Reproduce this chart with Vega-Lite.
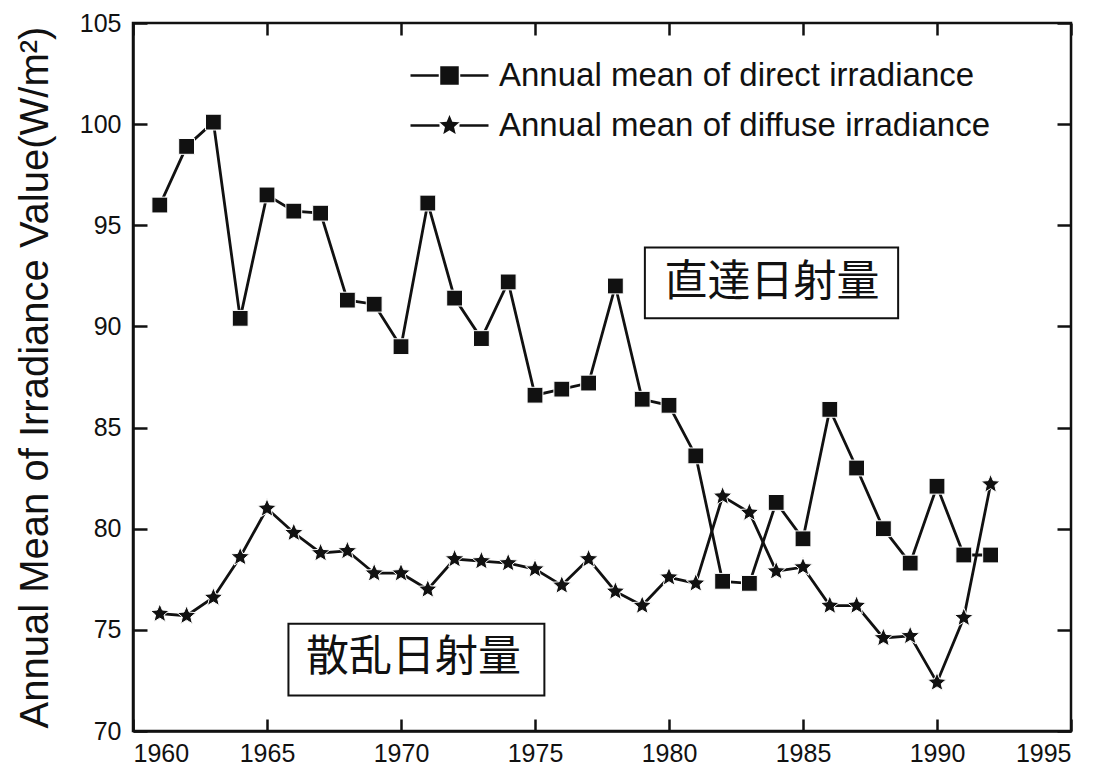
{
  "$schema": "https://vega.github.io/schema/vega-lite/v6.json",
  "width": 938,
  "height": 708,
  "autosize": {"type": "none"},
  "padding": {"left": 133, "top": 23, "right": 30, "bottom": 42},
  "background": "white",
  "config": {
    "font": "Liberation Sans",
    "view": {"stroke": "#111", "strokeWidth": 2.5},
    "axis": {
      "grid": false,
      "zindex": 1,
      "domainColor": "#111",
      "domainWidth": 2.5,
      "tickColor": "#111",
      "tickWidth": 2.5,
      "labelFont": "Liberation Sans",
      "labelFontSize": 25,
      "labelColor": "#111",
      "titleFont": "Liberation Sans",
      "titleColor": "#111",
      "titleFontWeight": "normal"
    }
  },
  "resolve": {"axis": {"x": "independent", "y": "independent"}},
  "datasets": {
    "irr": [
      {"year": 1961, "value": 96.0, "series": "Annual mean of direct irradiance"},
      {"year": 1962, "value": 98.9, "series": "Annual mean of direct irradiance"},
      {"year": 1963, "value": 100.1, "series": "Annual mean of direct irradiance"},
      {"year": 1964, "value": 90.4, "series": "Annual mean of direct irradiance"},
      {"year": 1965, "value": 96.5, "series": "Annual mean of direct irradiance"},
      {"year": 1966, "value": 95.7, "series": "Annual mean of direct irradiance"},
      {"year": 1967, "value": 95.6, "series": "Annual mean of direct irradiance"},
      {"year": 1968, "value": 91.3, "series": "Annual mean of direct irradiance"},
      {"year": 1969, "value": 91.1, "series": "Annual mean of direct irradiance"},
      {"year": 1970, "value": 89.0, "series": "Annual mean of direct irradiance"},
      {"year": 1971, "value": 96.1, "series": "Annual mean of direct irradiance"},
      {"year": 1972, "value": 91.4, "series": "Annual mean of direct irradiance"},
      {"year": 1973, "value": 89.4, "series": "Annual mean of direct irradiance"},
      {"year": 1974, "value": 92.2, "series": "Annual mean of direct irradiance"},
      {"year": 1975, "value": 86.6, "series": "Annual mean of direct irradiance"},
      {"year": 1976, "value": 86.9, "series": "Annual mean of direct irradiance"},
      {"year": 1977, "value": 87.2, "series": "Annual mean of direct irradiance"},
      {"year": 1978, "value": 92.0, "series": "Annual mean of direct irradiance"},
      {"year": 1979, "value": 86.4, "series": "Annual mean of direct irradiance"},
      {"year": 1980, "value": 86.1, "series": "Annual mean of direct irradiance"},
      {"year": 1981, "value": 83.6, "series": "Annual mean of direct irradiance"},
      {"year": 1982, "value": 77.4, "series": "Annual mean of direct irradiance"},
      {"year": 1983, "value": 77.3, "series": "Annual mean of direct irradiance"},
      {"year": 1984, "value": 81.3, "series": "Annual mean of direct irradiance"},
      {"year": 1985, "value": 79.5, "series": "Annual mean of direct irradiance"},
      {"year": 1986, "value": 85.9, "series": "Annual mean of direct irradiance"},
      {"year": 1987, "value": 83.0, "series": "Annual mean of direct irradiance"},
      {"year": 1988, "value": 80.0, "series": "Annual mean of direct irradiance"},
      {"year": 1989, "value": 78.3, "series": "Annual mean of direct irradiance"},
      {"year": 1990, "value": 82.1, "series": "Annual mean of direct irradiance"},
      {"year": 1991, "value": 78.7, "series": "Annual mean of direct irradiance"},
      {"year": 1992, "value": 78.7, "series": "Annual mean of direct irradiance"},
      {"year": 1961, "value": 75.8, "series": "Annual mean of diffuse irradiance"},
      {"year": 1962, "value": 75.7, "series": "Annual mean of diffuse irradiance"},
      {"year": 1963, "value": 76.6, "series": "Annual mean of diffuse irradiance"},
      {"year": 1964, "value": 78.6, "series": "Annual mean of diffuse irradiance"},
      {"year": 1965, "value": 81.0, "series": "Annual mean of diffuse irradiance"},
      {"year": 1966, "value": 79.8, "series": "Annual mean of diffuse irradiance"},
      {"year": 1967, "value": 78.8, "series": "Annual mean of diffuse irradiance"},
      {"year": 1968, "value": 78.9, "series": "Annual mean of diffuse irradiance"},
      {"year": 1969, "value": 77.8, "series": "Annual mean of diffuse irradiance"},
      {"year": 1970, "value": 77.8, "series": "Annual mean of diffuse irradiance"},
      {"year": 1971, "value": 77.0, "series": "Annual mean of diffuse irradiance"},
      {"year": 1972, "value": 78.5, "series": "Annual mean of diffuse irradiance"},
      {"year": 1973, "value": 78.4, "series": "Annual mean of diffuse irradiance"},
      {"year": 1974, "value": 78.3, "series": "Annual mean of diffuse irradiance"},
      {"year": 1975, "value": 78.0, "series": "Annual mean of diffuse irradiance"},
      {"year": 1976, "value": 77.2, "series": "Annual mean of diffuse irradiance"},
      {"year": 1977, "value": 78.5, "series": "Annual mean of diffuse irradiance"},
      {"year": 1978, "value": 76.9, "series": "Annual mean of diffuse irradiance"},
      {"year": 1979, "value": 76.2, "series": "Annual mean of diffuse irradiance"},
      {"year": 1980, "value": 77.6, "series": "Annual mean of diffuse irradiance"},
      {"year": 1981, "value": 77.3, "series": "Annual mean of diffuse irradiance"},
      {"year": 1982, "value": 81.6, "series": "Annual mean of diffuse irradiance"},
      {"year": 1983, "value": 80.8, "series": "Annual mean of diffuse irradiance"},
      {"year": 1984, "value": 77.9, "series": "Annual mean of diffuse irradiance"},
      {"year": 1985, "value": 78.1, "series": "Annual mean of diffuse irradiance"},
      {"year": 1986, "value": 76.2, "series": "Annual mean of diffuse irradiance"},
      {"year": 1987, "value": 76.2, "series": "Annual mean of diffuse irradiance"},
      {"year": 1988, "value": 74.6, "series": "Annual mean of diffuse irradiance"},
      {"year": 1989, "value": 74.7, "series": "Annual mean of diffuse irradiance"},
      {"year": 1990, "value": 72.4, "series": "Annual mean of diffuse irradiance"},
      {"year": 1991, "value": 75.6, "series": "Annual mean of diffuse irradiance"},
      {"year": 1992, "value": 82.2, "series": "Annual mean of diffuse irradiance"}
    ],
    "notes": [
      {"label": "直達日射量", "x1": 1979.1, "x2": 1988.55, "y1": 93.9, "y2": 90.4, "xc": 1983.84, "yc": 92.13},
      {"label": "散乱日射量", "x1": 1965.8, "x2": 1975.35, "y1": 75.3, "y2": 71.75, "xc": 1970.47, "yc": 73.6}
    ]
  },
  "layer": [
    {
      "data": {"name": "irr"},
      "mark": {"type": "line", "strokeWidth": 2.8},
      "encoding": {
        "x": {
          "field": "year", "type": "quantitative",
          "scale": {"domain": [1960, 1995], "nice": false, "zero": false},
          "axis": {"orient": "bottom", "values": [1960, 1965, 1970, 1975, 1980, 1985, 1990, 1995], "format": "d", "ticks": false, "tickSize": 0, "labelPadding": 10, "title": null}
        },
        "y": {
          "field": "value", "type": "quantitative",
          "scale": {"domain": [70, 105], "nice": false, "zero": false},
          "axis": {"orient": "left", "values": [70, 75, 80, 85, 90, 95, 100, 105], "ticks": false, "tickSize": 0, "labelPadding": 12, "title": "Annual Mean of Irradiance Value(W/m²)", "titleFontSize": 40, "titlePadding": 24}
        },
        "color": {
          "field": "series", "type": "nominal",
          "sort": ["Annual mean of direct irradiance", "Annual mean of diffuse irradiance"],
          "scale": {"range": ["#111111", "#111111"]},
          "legend": {
            "title": null,
            "orient": "none",
            "legendX": 300,
            "legendY": 36,
            "padding": 0,
            "symbolType": "M-3.9,0H-1.0M1.0,0H3.9",
            "symbolSize": 400,
            "symbolStrokeWidth": 2.5,
            "symbolStrokeColor": "#111111",
            "labelOffset": 33,
            "labelFontSize": 33,
            "labelFont": "Liberation Sans",
            "labelOpacity": 0,
            "labelLimit": 800,
            "rowPadding": 16
          }
        }
      }
    },
    {
      "data": {"name": "irr"},
      "mark": {"type": "point", "filled": true, "fill": "#111", "stroke": "white", "strokeWidth": 1, "opacity": 1, "size": 250},
      "encoding": {
        "x": {"field": "year", "type": "quantitative", "axis": {"orient": "bottom", "values": [1960, 1965, 1970, 1975, 1980, 1985, 1990, 1995], "offset": -12, "tickSize": 12, "domain": false, "labels": false, "title": null}},
        "y": {"field": "value", "type": "quantitative", "axis": {"orient": "left", "values": [70, 75, 80, 85, 90, 95, 100, 105], "offset": -14, "tickSize": 14, "domain": false, "labels": false, "title": null}},
        "shape": {
          "field": "series", "type": "nominal",
          "scale": {
            "domain": ["Annual mean of direct irradiance", "Annual mean of diffuse irradiance"],
            "range": ["square", "M0,-1.25L0.331,-0.455L1.189,-0.386L0.535,0.174L0.735,1.011L0,0.563L-0.735,1.011L-0.535,0.174L-1.189,-0.386L-0.331,-0.455Z"]
          },
          "legend": {
            "title": null,
            "orient": "none",
            "legendX": 300,
            "legendY": 36,
            "padding": 0,
            "symbolSize": 400,
            "labelOffset": 33,
            "labelFontSize": 33,
            "labelFont": "Liberation Sans",
            "labelColor": "#111",
            "labelLimit": 800,
            "rowPadding": 16
          }
        }
      }
    },
    {
      "data": {"name": "notes"},
      "mark": {"type": "rect", "fill": "white", "stroke": "#111", "strokeWidth": 2},
      "encoding": {
        "x": {"field": "x1", "type": "quantitative", "axis": {"orient": "top", "values": [1960, 1965, 1970, 1975, 1980, 1985, 1990, 1995], "offset": -12, "tickSize": 12, "domain": false, "labels": false, "title": null}},
        "x2": {"field": "x2"},
        "y": {"field": "y1", "type": "quantitative", "axis": {"orient": "right", "values": [70, 75, 80, 85, 90, 95, 100, 105], "offset": -14, "tickSize": 14, "domain": false, "labels": false, "title": null}},
        "y2": {"field": "y2"}
      }
    },
    {
      "data": {"name": "notes"},
      "mark": {"type": "text", "font": "Noto Sans CJK JP", "fontSize": 43, "color": "#111", "align": "center", "baseline": "middle"},
      "encoding": {
        "x": {"field": "xc", "type": "quantitative", "axis": null},
        "y": {"field": "yc", "type": "quantitative", "axis": null},
        "text": {"field": "label"}
      }
    }
  ]
}
